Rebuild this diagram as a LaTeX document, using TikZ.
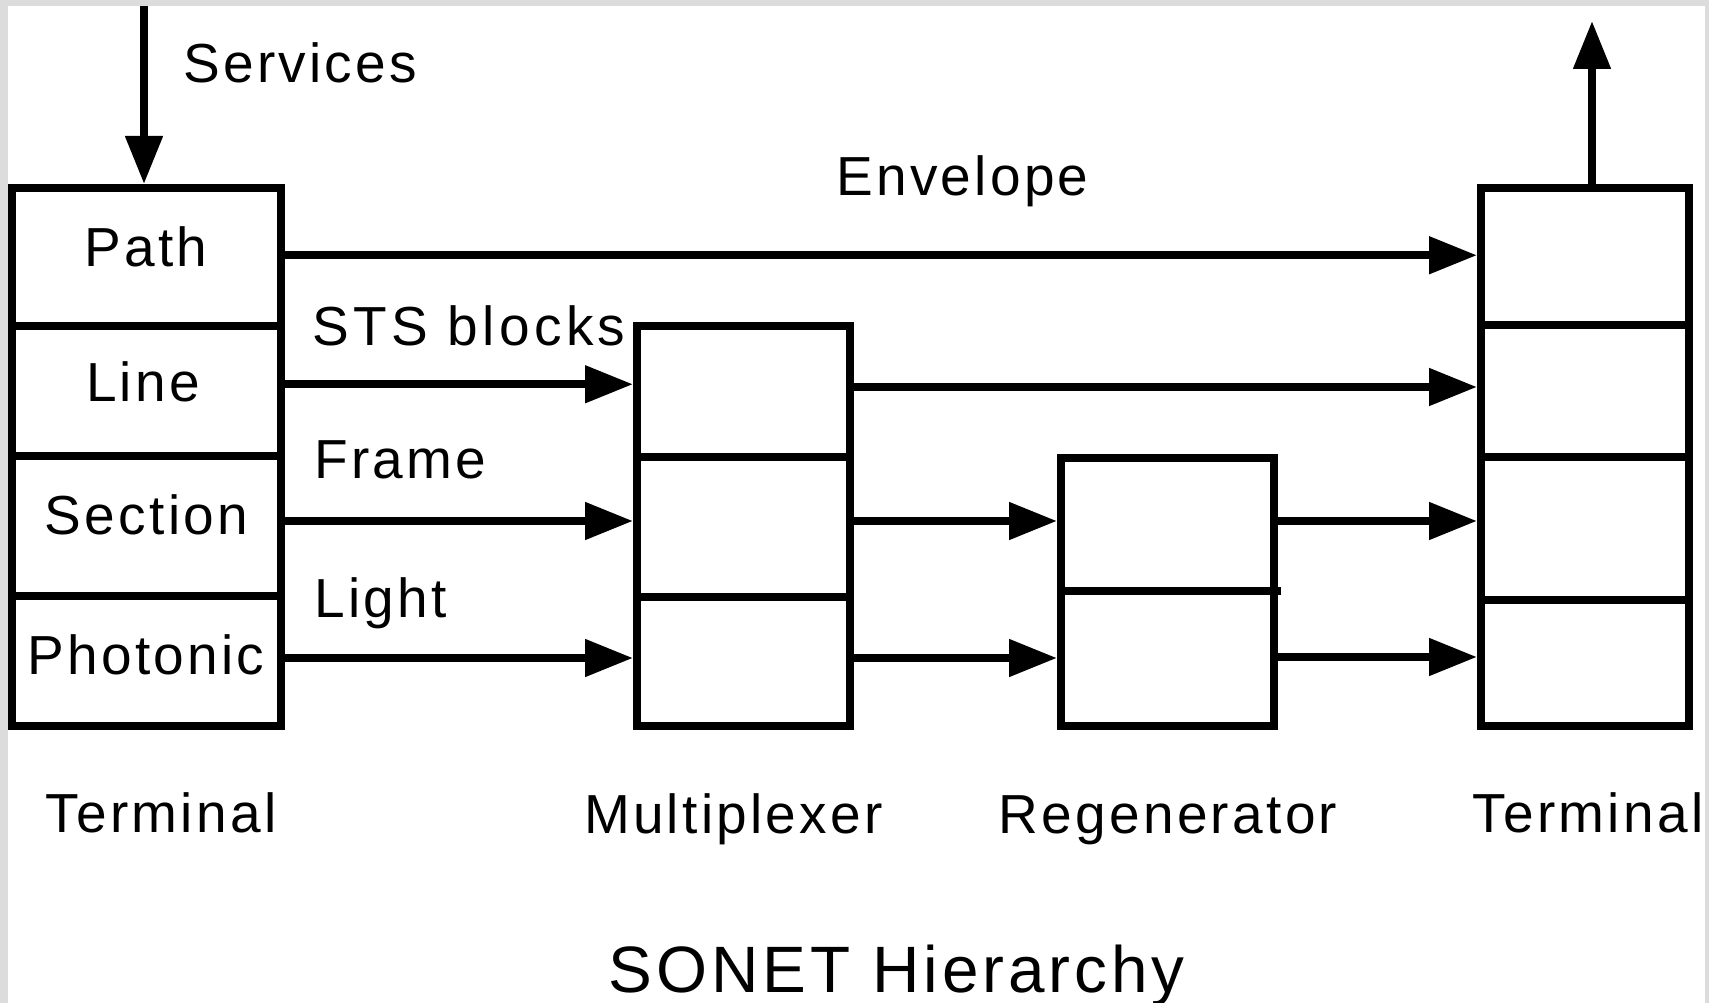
\documentclass[tikz,border=0pt]{standalone}
\usepackage{fontspec}
\setmainfont{Liberation Sans}[LetterSpace=6]
\usetikzlibrary{arrows.meta}
\definecolor{framegray}{HTML}{DCDCDC}
\begin{document}
\begin{tikzpicture}[x=1pt,y=-1pt,
  cell/.style={draw=black, line width=8pt, inner sep=0pt, fill=white},
  arr/.style={line width=8pt, -{Triangle[length=48pt,width=36pt]}},
  lbl/.style={inner sep=0pt, font=\fontsize{55}{60}\selectfont},
  title/.style={inner sep=0pt, font=\fontsize{65.6}{70}\selectfont}]
\useasboundingbox (0,0) rectangle (1709,1003);
\fill[framegray] (0,0) rectangle (1709,1003);
\fill[white] (8,6) rectangle (1705,1003);

% left terminal
\node[cell, minimum width=269pt, minimum height=137.5pt] (lP) at (146.5,256.75) {};
\node[cell, minimum width=269pt, minimum height=130.5pt] (lL) at (146.5,390.75) {};
\node[cell, minimum width=269pt, minimum height=140pt] (lS) at (146.5,526) {};
\node[cell, minimum width=269pt, minimum height=130pt] (lPh) at (146.5,661) {};

% multiplexer
\node[cell, minimum width=213pt, minimum height=131pt] (m1) at (743.5,391.5) {};
\node[cell, minimum width=213pt, minimum height=140pt] (m2) at (743.5,527) {};
\node[cell, minimum width=213pt, minimum height=129pt] (m3) at (743.5,661.5) {};

% regenerator
\node[cell, minimum width=213pt, minimum height=133pt] (g1) at (1167.5,524.5) {};
\node[cell, minimum width=213pt, minimum height=135pt] (g2) at (1167.5,658.5) {};
\draw[line width=8pt] ([yshift=4pt]g1.south east) -- ++(3,0);

% right terminal
\node[cell, minimum width=208pt, minimum height=137pt] (rP) at (1585,256.5) {};
\node[cell, minimum width=208pt, minimum height=132pt] (rL) at (1585,391) {};
\node[cell, minimum width=208pt, minimum height=143pt] (rS) at (1585,528.5) {};
\node[cell, minimum width=208pt, minimum height=126pt] (rPh) at (1585,663) {};

% cell texts
\node[lbl, anchor=base] (tPath) at (146,266) {Path};
\node[lbl, anchor=base] (tLine) at (143,401) {Line};
\node[lbl, anchor=base] (tSection) at (146.5,534) {Section};
\node[lbl, anchor=base] (tPhot) at (146,674) {Photonic};

% connectors
\coordinate (svctop) at (144,6);
\coordinate (uptip) at (1592,21);
\draw[arr] (svctop) -- (svctop |- lP.north);
\draw[arr] ([xshift=7pt,yshift=-8pt]rP.north) -- (uptip);

\draw[arr] ([yshift=1.5pt]lP.east) -- ([yshift=1.5pt]lP.east -| rP.west);
\draw[arr] ([yshift=6.5pt]lL.east) -- ([yshift=6.5pt]lL.east -| m1.west);
\draw[arr] ([yshift=5pt]lS.east) -- ([yshift=5pt]lS.east -| m2.west);
\draw[arr] ([yshift=3pt]lPh.east) -- ([yshift=3pt]lPh.east -| m3.west);
\draw[arr] ([yshift=4.5pt]m1.east) -- ([yshift=4.5pt]m1.east -| rL.west);
\draw[arr] ([yshift=6pt]m2.east) -- ([yshift=6pt]m2.east -| g1.west);
\draw[arr] ([yshift=3.5pt]m3.east) -- ([yshift=3.5pt]m3.east -| g2.west);
\draw[arr] ([yshift=3.5pt]g1.east) -- ([yshift=3.5pt]g1.east -| rS.west);
\draw[arr] ([yshift=1.5pt]g2.east) -- ([yshift=1.5pt]g2.east -| rPh.west);

% labels
\node[lbl, anchor=base west] (svc) at (183,83) {Services};
\node[lbl, anchor=base west] (env) at (836,196) {Envelope};
\node[lbl, anchor=base west, font=\fontsize{55}{60}\selectfont\addfontfeature{LetterSpace=8}] (sts) at (312,345) {STS blocks};
\node[lbl, anchor=base west] (frm) at (314,478) {Frame};
\node[lbl, anchor=base west] (lgt) at (314,617) {Light};

\node[lbl, anchor=base] (nT1) at (161,832) {Terminal};
\node[lbl, anchor=base] (nMux) at (733.5,833) {Multiplexer};
\node[lbl, anchor=base] (nReg) at (1168,833) {Regenerator};
\node[lbl, anchor=base] (nT2) at (1588,832) {Terminal};

\node[title, anchor=base] (ttl) at (896.5,992) {SONET Hierarchy};
\end{tikzpicture}
\end{document}
